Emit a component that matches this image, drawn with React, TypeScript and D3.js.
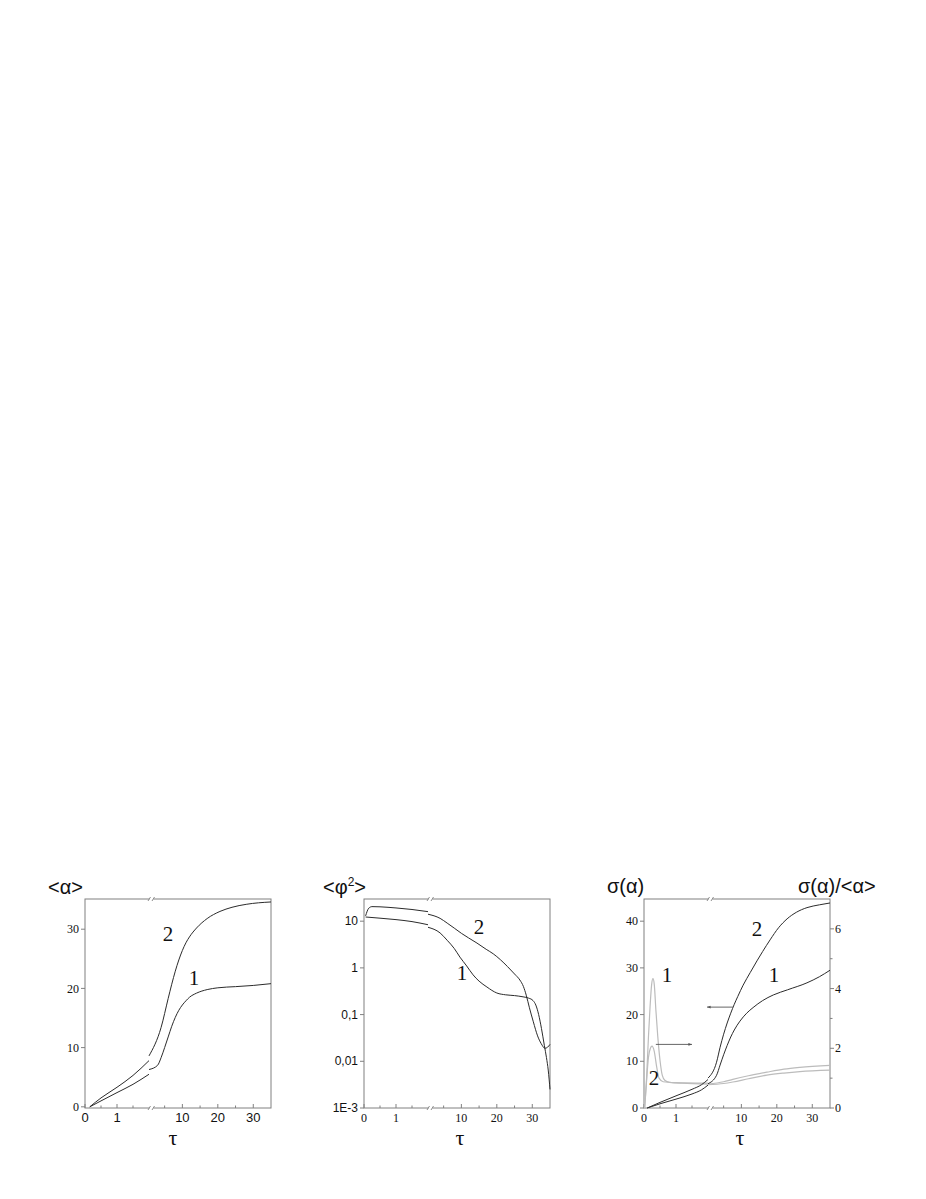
import React from 'react';
import * as d3 from 'd3';

type Pt = [number, number];

// ---------- axis ticks ----------
const xTicksLeft = [0, 1];
const xTicksRight = [10, 20, 30];
const xMinorLeft = [0.5, 1.5];
const xMinorRight = [5, 15, 25];
const alphaTicks = [0, 10, 20, 30];
const phiTicks = [0.001, 0.01, 0.1, 1, 10];
const phiTickLabels = ['1E-3', '0,01', '0,1', '1', '10'];
const sigmaTicks = [0, 10, 20, 30, 40];
const ratioTicks = [0, 2, 4, 6];
const ratioMinor = [1, 3, 5];

// ---------- panel 1: <alpha> ----------
const alpha1Left: Pt[] = [[0.15, 0], [0.5, 1.0], [1, 2.4], [1.5, 3.8], [2, 5.5]];
const alpha1Right: Pt[] = [[2, 6.3], [3, 7.0], [4, 8.3], [5, 10.0], [6, 11.8], [7, 13.6], [8, 15.1], [9, 16.3], [10, 17.2], [11, 17.9], [12, 18.5], [14, 19.2], [17, 19.8], [20, 20.1], [25, 20.3], [30, 20.5], [35, 20.8]];
const alpha2Left: Pt[] = [[0.15, 0], [0.5, 1.5], [1, 3.3], [1.5, 5.3], [2, 7.8]];
const alpha2Right: Pt[] = [[2, 8.6], [4, 13.4], [6, 18.3], [7, 20.7], [8, 22.9], [9, 24.8], [10, 26.4], [11, 27.7], [12, 28.7], [14, 30.2], [17, 31.8], [20.6, 33], [24, 33.7], [28, 34.2], [35, 34.6]];
const alphaLabels = [{ t: '2', tau: 5.95, v: 29.3 }, { t: '1', tau: 13.3, v: 21.9 }];

// ---------- panel 2: <phi^2> ----------
const phi1Left: Pt[] = [[0.05, 12.3], [0.5, 11.6], [1, 10.8], [1.5, 9.8], [2, 8.4]];
const phi1Right: Pt[] = [[2, 7.4], [4, 5.6], [6, 3.9], [8, 2.6], [9.6, 1.7], [11.5, 1.1], [13.3, 0.71], [15, 0.52], [17.2, 0.39], [20, 0.29], [22.5, 0.265], [25, 0.255], [27.4, 0.24], [29, 0.225], [30.2, 0.2], [31, 0.16], [31.8, 0.1], [32.6, 0.05], [33.4, 0.022], [34, 0.012], [34.5, 0.0065], [35, 0.0025]];
const phi2Left: Pt[] = [[0.05, 13], [0.15, 19], [0.25, 20.5], [0.5, 20.3], [1, 19.2], [1.5, 17.8], [2, 16]];
const phi2Right: Pt[] = [[2, 14.1], [4, 11.5], [6, 9.1], [8, 7.1], [10, 5.5], [12, 4.4], [14.4, 3.4], [17, 2.5], [19, 2.0], [21, 1.5], [23, 1.07], [25, 0.74], [26.5, 0.55], [27.5, 0.4], [28.3, 0.26], [29.2, 0.14], [30.3, 0.07], [31.5, 0.035], [32.5, 0.024], [33.6, 0.019], [34.3, 0.02], [35, 0.023]];
const phiLabels = [{ t: '2', tau: 15, v: 7.5 }, { t: '1', tau: 10.2, v: 0.78 }];

// ---------- panel 3: sigma(alpha) (left axis) and sigma/<alpha> (right axis) ----------
const sigma1Left: Pt[] = [[0.1, 0], [0.5, 0.9], [1, 1.9], [1.5, 3.0], [1.8, 3.9], [2, 4.9]];
const sigma1Right: Pt[] = [[2, 5.2], [3, 7.0], [4, 9.2], [5, 11.4], [6, 13.4], [7, 15.2], [8, 16.7], [9.6, 18.6], [11.5, 20.3], [13.3, 21.5], [16, 23], [19, 24.2], [23, 25.3], [28.5, 26.8], [32, 28.1], [35, 29.5]];
const sigma2Left: Pt[] = [[0.1, 0], [0.5, 1.2], [1, 2.6], [1.5, 4.0], [1.8, 5.0], [2, 6.1]];
const sigma2Right: Pt[] = [[2, 6.4], [3, 9.8], [4, 13], [5, 15.8], [6, 18.2], [7, 20.3], [8, 22.2], [9, 23.9], [10.5, 26.3], [12.5, 29], [14.4, 31.5], [16, 33.5], [18.1, 36], [20.5, 38.6], [22.9, 40.5], [25.5, 41.9], [28.5, 42.9], [32, 43.5], [35, 43.9]];
const ratio1Left: Pt[] = [[0.02, 0], [0.08, 1.0], [0.14, 2.4], [0.19, 3.4], [0.24, 4.15], [0.28, 4.33], [0.32, 4.15], [0.37, 3.3], [0.43, 2.4], [0.5, 1.6], [0.57, 1.1], [0.65, 0.93], [0.8, 0.86], [1.2, 0.83], [2, 0.8]];
const ratio2Left: Pt[] = [[0.02, 0], [0.08, 0.9], [0.14, 1.7], [0.2, 2.0], [0.25, 2.07], [0.32, 1.9], [0.4, 1.35], [0.47, 1.0], [0.6, 0.88], [1, 0.85], [2, 0.83]];
const ratio1Right: Pt[] = [[2, 0.78], [5, 0.82], [7.6, 0.87], [12, 0.98], [17.2, 1.1], [22, 1.17], [26.5, 1.22], [35, 1.27]];
const ratio2Right: Pt[] = [[2, 0.8], [5, 0.88], [7.6, 0.96], [12, 1.08], [17.2, 1.2], [22, 1.3], [26.5, 1.36], [35, 1.43]];
const sigmaLabels = [{ t: '2', tau: 14.4, v: 38.5 }, { t: '1', tau: 19.2, v: 28.5 }, { t: '1', tau: 0.72, v: 28.5 }, { t: '2', tau: 0.31, v: 6.6 }];
// arrows: left arrow in sigma units, right arrow in ratio units
const arrowToLeft = { from: 7.6, to: 1.97, v: 21.6 };
const arrowToRight = { from: 0.37, to: 1.5, v: 2.13 };

// ---------- layout ----------
const TOP = 899;
const BOTTOM = 1108;
const FW = 186;
const panelLeft = [85, 364, 644];
const SANS = "'Liberation Sans', Arial, sans-serif";
const SERIF = "'Liberation Serif', 'Times New Roman', serif";
const FRAME = '#808080';
const INK = '#2b2b2b';
const GRAY = '#bcbcbc';

const segL = d3.scaleLinear().domain([0, 2]).range([0, 64]);
const segR = d3.scaleLinear().domain([2, 35]).range([69, FW]);
const makeX = (left: number) => (t: number) => left + (t <= 2 ? segL(t) : segR(t));

function pathOf(pts: Pt[], x: (t: number) => number, y: (v: number) => number) {
  return d3.line<Pt>().x(d => x(d[0])).y(d => y(d[1])).curve(d3.curveMonotoneX)(pts) || '';
}

function BreakMark({ x, y }: { x: number; y: number }) {
  return (
    <g>
      <rect x={x - 2} y={y - 1.5} width={4} height={3} fill="#fff" />
      <line x1={x - 3.5} y1={y + 2} x2={x - 1} y2={y - 2} stroke={FRAME} strokeWidth={0.9} />
      <line x1={x + 0.5} y1={y + 2} x2={x + 3} y2={y - 2} stroke={FRAME} strokeWidth={0.9} />
    </g>
  );
}

function XAxis({ left, fontFamily, fontSize, tauX }: { left: number; fontFamily: string; fontSize: number; tauX: number }) {
  const x = makeX(left);
  return (
    <g>
      {[...xTicksLeft, ...xTicksRight].map(t => (
        <g key={'M' + t}>
          <line x1={x(t)} x2={x(t)} y1={BOTTOM} y2={BOTTOM - 4} stroke={FRAME} />
          <text x={x(t)} y={1122} textAnchor="middle" fontFamily={fontFamily} fontSize={fontSize} fill="#111">{t}</text>
        </g>
      ))}
      {[...xMinorLeft, ...xMinorRight].map(t => (
        <line key={'m' + t} x1={x(t)} x2={x(t)} y1={BOTTOM} y2={BOTTOM - 2.5} stroke={FRAME} />
      ))}
      <BreakMark x={left + 66.5} y={BOTTOM} />
      <BreakMark x={left + 66.5} y={TOP} />
      <text x={tauX} y={1145} textAnchor="middle" fontFamily={SERIF} fontSize={22} fill="#111">τ</text>
    </g>
  );
}

function Frame({ left }: { left: number }) {
  return <rect x={left} y={TOP} width={FW} height={BOTTOM - TOP} fill="none" stroke={FRAME} strokeWidth={1} />;
}

function YAxis({ left, ticks, labels, y, fontFamily, side = 'left', minor = [] as number[] }: any) {
  const isLeft = side === 'left';
  return (
    <g>
      {ticks.map((t: number, i: number) => (
        <g key={t}>
          <line x1={left} x2={isLeft ? left - 4 : left + 4} y1={y(t)} y2={y(t)} stroke={FRAME} />
          <text x={isLeft ? left - 6 : left + 5} y={y(t)} dy="0.35em" textAnchor={isLeft ? 'end' : 'start'} fontFamily={fontFamily} fontSize={12} fill="#111">{labels ? labels[i] : t}</text>
        </g>
      ))}
      {minor.map((t: number) => (
        <line key={'m' + t} x1={left} x2={isLeft ? left - 2.5 : left + 2.5} y1={y(t)} y2={y(t)} stroke={FRAME} />
      ))}
    </g>
  );
}

function CurveLabel({ x, y, t }: { x: number; y: number; t: string }) {
  return <text x={x} y={y} dy="0.35em" textAnchor="middle" fontFamily={SERIF} fontSize={21} fill="#111">{t}</text>;
}

export default function App() {
  const x1 = makeX(panelLeft[0]);
  const y1 = d3.scaleLinear().domain([-0.2, 35.1]).range([BOTTOM, TOP]);
  const x2 = makeX(panelLeft[1]);
  const y2 = d3.scaleLog().domain([0.001, Math.pow(10, 1.475)]).range([BOTTOM, TOP]);
  const x3 = makeX(panelLeft[2]);
  const y3 = d3.scaleLinear().domain([0, 44.75]).range([BOTTOM, TOP]);
  const y3r = d3.scaleLinear().domain([0, 7]).range([BOTTOM, TOP]);

  const black = { fill: 'none', stroke: INK, strokeWidth: 1 };
  const gray = { fill: 'none', stroke: GRAY, strokeWidth: 1.2 };

  return (
    <svg width={926} height={1199} style={{ position: 'absolute', left: 0, top: 0, background: '#fff' }}>
      <defs>
        <marker id="ah" viewBox="0 0 10 10" refX="10" refY="5" markerWidth="6" markerHeight="4" orient="auto">
          <path d="M0,1 L10,5 L0,9 z" fill="#555" />
        </marker>
      </defs>

      {/* ---------- Panel 1 ---------- */}
      <text x={48} y={894} fontFamily={SANS} fontSize={20} fill="#111">&lt;α&gt;</text>
      <Frame left={panelLeft[0]} />
      <YAxis left={panelLeft[0]} ticks={alphaTicks} y={y1} fontFamily={SERIF} />
      <XAxis left={panelLeft[0]} fontFamily={SANS} fontSize={13} tauX={173} />
      {[alpha1Left, alpha1Right, alpha2Left, alpha2Right].map((d, i) => (
        <path key={i} d={pathOf(d, x1, y1)} {...black} />
      ))}
      {alphaLabels.map((l, i) => <CurveLabel key={i} x={x1(l.tau)} y={y1(l.v)} t={l.t} />)}

      {/* ---------- Panel 2 ---------- */}
      <text x={323} y={894} fontFamily={SANS} fontSize={20} fill="#111">&lt;φ<tspan fontSize={12} dy={-8}>2</tspan><tspan dy={8}>&gt;</tspan></text>
      <Frame left={panelLeft[1]} />
      <YAxis left={panelLeft[1]} ticks={phiTicks} labels={phiTickLabels} y={y2} fontFamily={SANS} />
      <XAxis left={panelLeft[1]} fontFamily={SERIF} fontSize={12} tauX={460} />
      {[phi1Left, phi1Right, phi2Left, phi2Right].map((d, i) => (
        <path key={i} d={pathOf(d, x2, y2)} {...black} />
      ))}
      {phiLabels.map((l, i) => <CurveLabel key={i} x={x2(l.tau)} y={y2(l.v)} t={l.t} />)}

      {/* ---------- Panel 3 ---------- */}
      <text x={607} y={893} fontFamily={SANS} fontSize={20} fill="#111">σ(α)</text>
      <text x={798} y={893} fontFamily={SANS} fontSize={20} fill="#111">σ(α)/&lt;α&gt;</text>
      <Frame left={panelLeft[2]} />
      <YAxis left={panelLeft[2]} ticks={sigmaTicks} y={y3} fontFamily={SERIF} />
      <YAxis left={panelLeft[2] + FW} ticks={ratioTicks} y={y3r} fontFamily={SERIF} side="right" minor={ratioMinor} />
      <XAxis left={panelLeft[2]} fontFamily={SERIF} fontSize={12} tauX={740} />
      {[ratio1Left, ratio1Right, ratio2Left, ratio2Right].map((d, i) => (
        <path key={'g' + i} d={pathOf(d, x3, y3r)} {...gray} />
      ))}
      {[sigma1Left, sigma1Right, sigma2Left, sigma2Right].map((d, i) => (
        <path key={'b' + i} d={pathOf(d, x3, y3)} {...black} />
      ))}
      {sigmaLabels.map((l, i) => <CurveLabel key={i} x={x3(l.tau)} y={y3(l.v)} t={l.t} />)}
      <line x1={x3(arrowToLeft.from)} x2={x3(arrowToLeft.to)} y1={y3(arrowToLeft.v)} y2={y3(arrowToLeft.v)} stroke="#555" strokeWidth={0.9} markerEnd="url(#ah)" />
      <line x1={x3(arrowToRight.from)} x2={x3(arrowToRight.to)} y1={y3r(arrowToRight.v)} y2={y3r(arrowToRight.v)} stroke="#555" strokeWidth={0.9} markerEnd="url(#ah)" />
    </svg>
  );
}
